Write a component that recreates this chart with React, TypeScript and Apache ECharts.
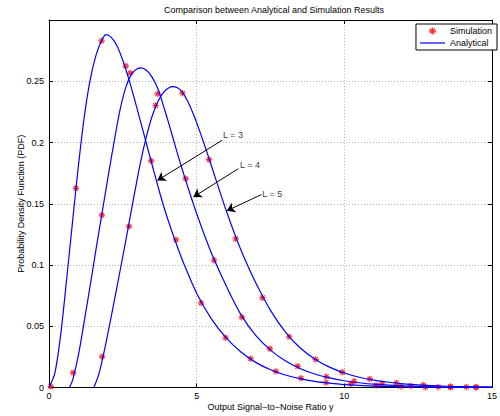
import React, { useEffect, useRef } from 'react';
import * as echarts from 'echarts';

const FONT = 'Liberation Sans, Arial, Helvetica, sans-serif';

const TITLE = 'Comparison between Analytical and Simulation Results';
const X_NAME = 'Output Signal\u2212to\u2212Noise Ratio y';
const Y_NAME = 'Probability Density Function (PDF)';

const xTicks = [0, 5, 10, 15];
const yTicks = [0, 0.05, 0.1, 0.15, 0.2, 0.25, 0.3];

// Analytical curves
const anaL3: number[][] = [
  [0, 0], [0.2, 0.012], [0.4, 0.044], [0.6, 0.089], [0.8, 0.136], [1.0, 0.182], [1.2, 0.222],
  [1.4, 0.252], [1.6, 0.272], [1.8, 0.284], [1.93, 0.288], [2.1, 0.286], [2.3, 0.279], [2.5, 0.267],
  [2.7, 0.252], [2.9, 0.235], [3.1, 0.217], [3.3, 0.199], [3.5, 0.181], [3.75, 0.159], [4.0, 0.139],
  [4.3, 0.118], [4.6, 0.099], [5.0, 0.077], [5.5, 0.056], [6.0, 0.0405], [6.5, 0.029], [7.0, 0.0205],
  [7.5, 0.0145], [8.0, 0.0102], [8.5, 0.0072], [9.0, 0.005], [9.5, 0.0035], [10, 0.0024], [11, 0.0012],
  [12, 0.0006], [13, 0.0003], [14, 0.00014], [15, 0.00007],
];
const anaL4: number[][] = [
  [0.69, 0], [0.8, 0.006], [1.0, 0.027], [1.2, 0.055], [1.4, 0.084], [1.6, 0.114], [1.8, 0.143],
  [2.0, 0.172], [2.2, 0.2], [2.4, 0.226], [2.6, 0.245], [2.8, 0.256], [3.0, 0.2605], [3.11, 0.261],
  [3.3, 0.259], [3.5, 0.253], [3.7, 0.243], [3.9, 0.228], [4.1, 0.212], [4.3, 0.195], [4.5, 0.179],
  [4.75, 0.16], [5.0, 0.142], [5.3, 0.122], [5.6, 0.104], [6.0, 0.083], [6.5, 0.0595], [7.0, 0.0425],
  [7.5, 0.0305], [8.0, 0.0218], [8.5, 0.0155], [9.0, 0.011], [9.5, 0.0078], [10, 0.0055], [10.5, 0.0039],
  [11, 0.0027], [12, 0.0013], [13, 0.0006], [14, 0.0003], [15, 0.00014],
];
const anaL5: number[][] = [
  [1.52, 0], [1.7, 0.012], [1.9, 0.033], [2.1, 0.057], [2.3, 0.082], [2.5, 0.107], [2.7, 0.133],
  [2.9, 0.159], [3.1, 0.184], [3.3, 0.205], [3.5, 0.222], [3.7, 0.234], [3.9, 0.2415], [4.05, 0.2445],
  [4.19, 0.2456], [4.35, 0.2447], [4.5, 0.2415], [4.7, 0.2335], [4.9, 0.2225], [5.1, 0.2095],
  [5.3, 0.1955], [5.5, 0.181], [5.75, 0.1625], [6.0, 0.1445], [6.3, 0.1245], [6.6, 0.1065], [7.0, 0.0855],
  [7.5, 0.063], [8.0, 0.0455], [8.5, 0.0325], [9.0, 0.0233], [9.5, 0.0166], [10, 0.0118], [10.5, 0.0084],
  [11, 0.006], [11.5, 0.0043], [12, 0.003], [12.5, 0.0021], [13, 0.0015], [13.5, 0.001], [14, 0.0007],
  [15, 0.0003],
];

// Simulation points
const simL3: number[][] = [
  [0.06, 0.0008], [0.91, 0.1626], [1.78, 0.283], [2.6, 0.2624], [3.46, 0.185], [4.3, 0.1206],
  [5.15, 0.069], [5.98, 0.0406], [6.83, 0.0235], [7.68, 0.0132], [8.53, 0.0075], [9.38, 0.004],
  [10.22, 0.003], [11.08, 0.0016], [11.91, 0.001], [12.75, 0.0003], [13.6, 0.0002], [14.45, 0.0001],
];
const simL4: number[][] = [
  [0.82, 0.012], [1.79, 0.1407], [2.75, 0.2567], [3.68, 0.2397], [4.63, 0.1705], [5.59, 0.1039],
  [6.53, 0.0573], [7.48, 0.0316], [8.42, 0.0173], [9.39, 0.0089], [10.33, 0.0051], [11.28, 0.003],
  [12.25, 0.0013], [13.18, 0.0005], [14.13, 0.0005],
];
const simL5: number[][] = [
  [1.8, 0.0252], [2.71, 0.1315], [3.61, 0.2302], [4.52, 0.2403], [5.42, 0.186], [6.32, 0.1214],
  [7.23, 0.0733], [8.13, 0.0414], [9.03, 0.023], [9.93, 0.0124], [10.86, 0.007], [11.76, 0.0037],
  [12.67, 0.0021], [13.59, 0.0008], [14.47, 0.0005],
];

// Annotation labels and arrows (data coordinates)
const labelNames = ['L = 3', 'L = 4', 'L = 5'];
const labelAt: number[][] = [[5.89, 0.2058], [6.47, 0.182], [7.22, 0.1583]];
const arrowFrom: number[][] = [[5.86, 0.2018], [6.41, 0.1786], [7.19, 0.1575]];
const arrowTo: number[][] = [[3.67, 0.169], [4.89, 0.1555], [6.02, 0.1442]];

const ASTERISK =
  'path://M-0.9,-5L0.9,-5L0.9,5L-0.9,5Z' +
  'M-5,-0.9L5,-0.9L5,0.9L-5,0.9Z' +
  'M-2.86,-4.14L4.14,2.86L2.86,4.14L-4.14,-2.86Z' +
  'M-4.14,2.86L2.86,-4.14L4.14,-2.86L-2.86,4.14Z';
const LEGEND_LINE = 'path://M0,0L25,0L25,1.2L0,1.2Z';

export default function App() {
  const ref = useRef<HTMLDivElement>(null);

  useEffect(() => {
    if (!ref.current) return;
    const chart = echarts.init(ref.current, undefined, { renderer: 'svg' });

    const tickLabel = { fontSize: 9, color: '#000', fontFamily: FONT };
    const borderLine = { show: true, onZero: false, lineStyle: { color: '#000', width: 1 } };
    const innerTick = { show: true, inside: true, length: 4, lineStyle: { color: '#000', width: 1 } };
    const grid = { show: true, lineStyle: { color: '#b4b4b4', type: [1, 2], width: 1 } };

    const simSeries = [simL3, simL4, simL5].map((d) => ({
      type: 'scatter',
      name: 'Simulation',
      data: d,
      symbol: ASTERISK,
      symbolSize: 6.5,
      itemStyle: { color: '#ff0000' },
      z: 2,
      silent: true,
    }));
    const anaSeries = [anaL3, anaL4, anaL5].map((d) => ({
      type: 'line',
      name: 'Analytical',
      data: d,
      symbol: 'none',
      smooth: 0.3,
      lineStyle: { color: '#0000ff', width: 1.2 },
      itemStyle: { color: '#0000ff' },
      z: 3,
      silent: true,
    }));

    const option: any = {
      animation: false,
      backgroundColor: '#ffffff',
      grid: { left: 49, top: 20, width: 450, height: 369, containLabel: false },
      graphic: [
        {
          type: 'text',
          x: 274,
          y: 10,
          style: {
            text: TITLE,
            fontSize: 9,
            fontFamily: FONT,
            fill: '#000',
            align: 'center',
            verticalAlign: 'middle',
          },
        },
      ],
      legend: {
        data: [
          { name: 'Simulation', icon: ASTERISK, itemStyle: { color: '#ff0000' } },
          { name: 'Analytical', icon: LEGEND_LINE, itemStyle: { color: '#0000ff' } },
        ],
        orient: 'vertical',
        right: 3,
        top: 24,
        backgroundColor: '#ffffff',
        borderColor: '#000',
        borderWidth: 1,
        borderRadius: 0,
        padding: [2, 5, 2, 4],
        itemGap: 2,
        itemWidth: 25,
        itemHeight: 7,
        selectedMode: false,
        textStyle: { fontSize: 9, color: '#000', fontFamily: FONT, lineHeight: 10 },
      },
      xAxis: [
        {
          type: 'value',
          min: xTicks[0],
          max: xTicks[xTicks.length - 1],
          interval: 5,
          position: 'bottom',
          name: X_NAME,
          nameLocation: 'middle',
          nameGap: 19,
          nameMoveOverlap: false,
          nameTextStyle: { fontSize: 9, color: '#000', fontFamily: FONT, verticalAlign: 'middle' },
          axisLine: borderLine,
          axisTick: innerTick,
          axisLabel: { ...tickLabel, margin: 4 },
          splitLine: grid,
        },
        {
          type: 'value',
          min: xTicks[0],
          max: xTicks[xTicks.length - 1],
          interval: 5,
          position: 'top',
          axisLine: borderLine,
          axisTick: innerTick,
          axisLabel: { show: false },
          splitLine: { show: false },
        },
      ],
      yAxis: [
        {
          type: 'value',
          min: yTicks[0],
          max: yTicks[yTicks.length - 1],
          interval: 0.05,
          position: 'left',
          name: Y_NAME,
          nameLocation: 'middle',
          nameGap: 28,
          nameMoveOverlap: false,
          nameRotate: 90,
          nameTextStyle: { fontSize: 9, color: '#000', fontFamily: FONT, verticalAlign: 'middle' },
          axisLine: borderLine,
          axisTick: innerTick,
          axisLabel: {
            ...tickLabel,
            margin: 5,
            formatter: (v: number) => (v > 0.29 ? '' : String(Math.round(v * 100) / 100)),
          },
          splitLine: grid,
        },
        {
          type: 'value',
          min: yTicks[0],
          max: yTicks[yTicks.length - 1],
          interval: 0.05,
          position: 'right',
          axisLine: borderLine,
          axisTick: innerTick,
          axisLabel: { show: false },
          splitLine: { show: false },
        },
      ],
      series: [
        ...simSeries,
        ...anaSeries,
        {
          type: 'scatter',
          name: 'annotations',
          data: labelAt.map((p, i) => [p[0], p[1], labelNames[i]]),
          symbolSize: 0,
          silent: true,
          z: 4,
          label: {
            show: true,
            position: 'right',
            distance: 0,
            formatter: (p: any) => p.value[2],
            fontSize: 9,
            color: '#000',
            fontFamily: FONT,
          },
          markLine: {
            silent: true,
            symbol: ['none', 'arrow'],
            symbolSize: 8,
            label: { show: false },
            lineStyle: { color: '#000', width: 1, type: 'solid' },
            data: arrowFrom.map((f, i) => [{ coord: f }, { coord: arrowTo[i] }]),
          },
        },
      ],
    };

    chart.setOption(option);
    return () => chart.dispose();
  }, []);

  return (
    <div
      ref={ref}
      style={{ position: 'fixed', left: 0, top: 0, width: 500, height: 416, background: '#fff' }}
    />
  );
}
